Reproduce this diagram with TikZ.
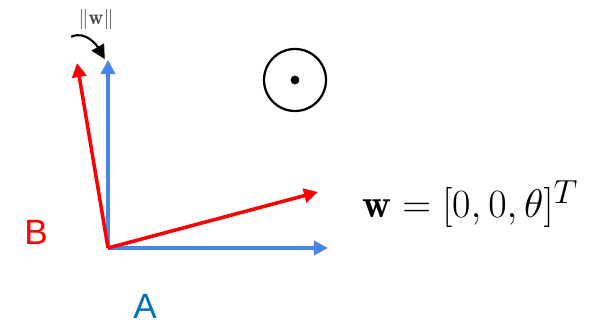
\documentclass[tikz,border=0pt]{standalone}
\usepackage{fontspec}
\setsansfont{Liberation Sans}
\usetikzlibrary{arrows.meta}
\definecolor{axisblue}{rgb}{0.29,0.525,0.91}
\definecolor{framered}{rgb}{1.0,0.0,0.0}
\definecolor{labelblue}{rgb}{0.0,0.44,0.75}
\tikzset{
  axis/.style={axisblue,line width=2.6pt,-{Triangle[length=10pt,width=10pt]}},
  rotaxis/.style={framered,line width=2.5pt,-{Triangle[length=10pt,width=10pt]}},
  framelabel/.style={font=\sffamily\fontsize{25}{30}\selectfont}
}
\begin{document}
\begin{tikzpicture}
\useasboundingbox (0,0) rectangle (14.725,8);
\coordinate (O) at (2.7,1.8);
\coordinate (xA) at (8.2,1.8);
\coordinate (yA) at (2.7,6.5);
\coordinate (xB) at (7.95,3.2);
\coordinate (yB) at (1.925,6.425);
\draw[axis] (O) -- (xA);
\draw[axis] (O) -- (yA);
\draw[rotaxis] (O) -- (xB);
\draw[rotaxis] (O) -- (yB);
\node[framelabel,framered] (labB) at (0.9,2.2) {B};
\node[framelabel,labelblue] (labA) at (3.625,0.35) {A};
\draw[line width=1.6pt] (7.375,6.0) circle (0.775);
\fill (7.375,6.0) circle (0.11);
\node[font=\Huge,scale=1.145,transform shape,anchor=west,inner sep=0pt] (eqw) at (9.05,2.9) {$\mathbf{w}=[0,0,\theta]^T$};
\node[font=\fontsize{15}{18}\selectfont,black!70] (normw) at (2.4,7.52) {$\|\mathbf{w}\|$};
\coordinate (rotS) at (1.78,7.08);
\coordinate (rotE) at (2.62,6.52);
\draw[line width=1.5pt,-{Triangle[length=10pt,width=10pt]}] (rotS) to[out=25,in=120] (rotE);
\end{tikzpicture}
\end{document}
